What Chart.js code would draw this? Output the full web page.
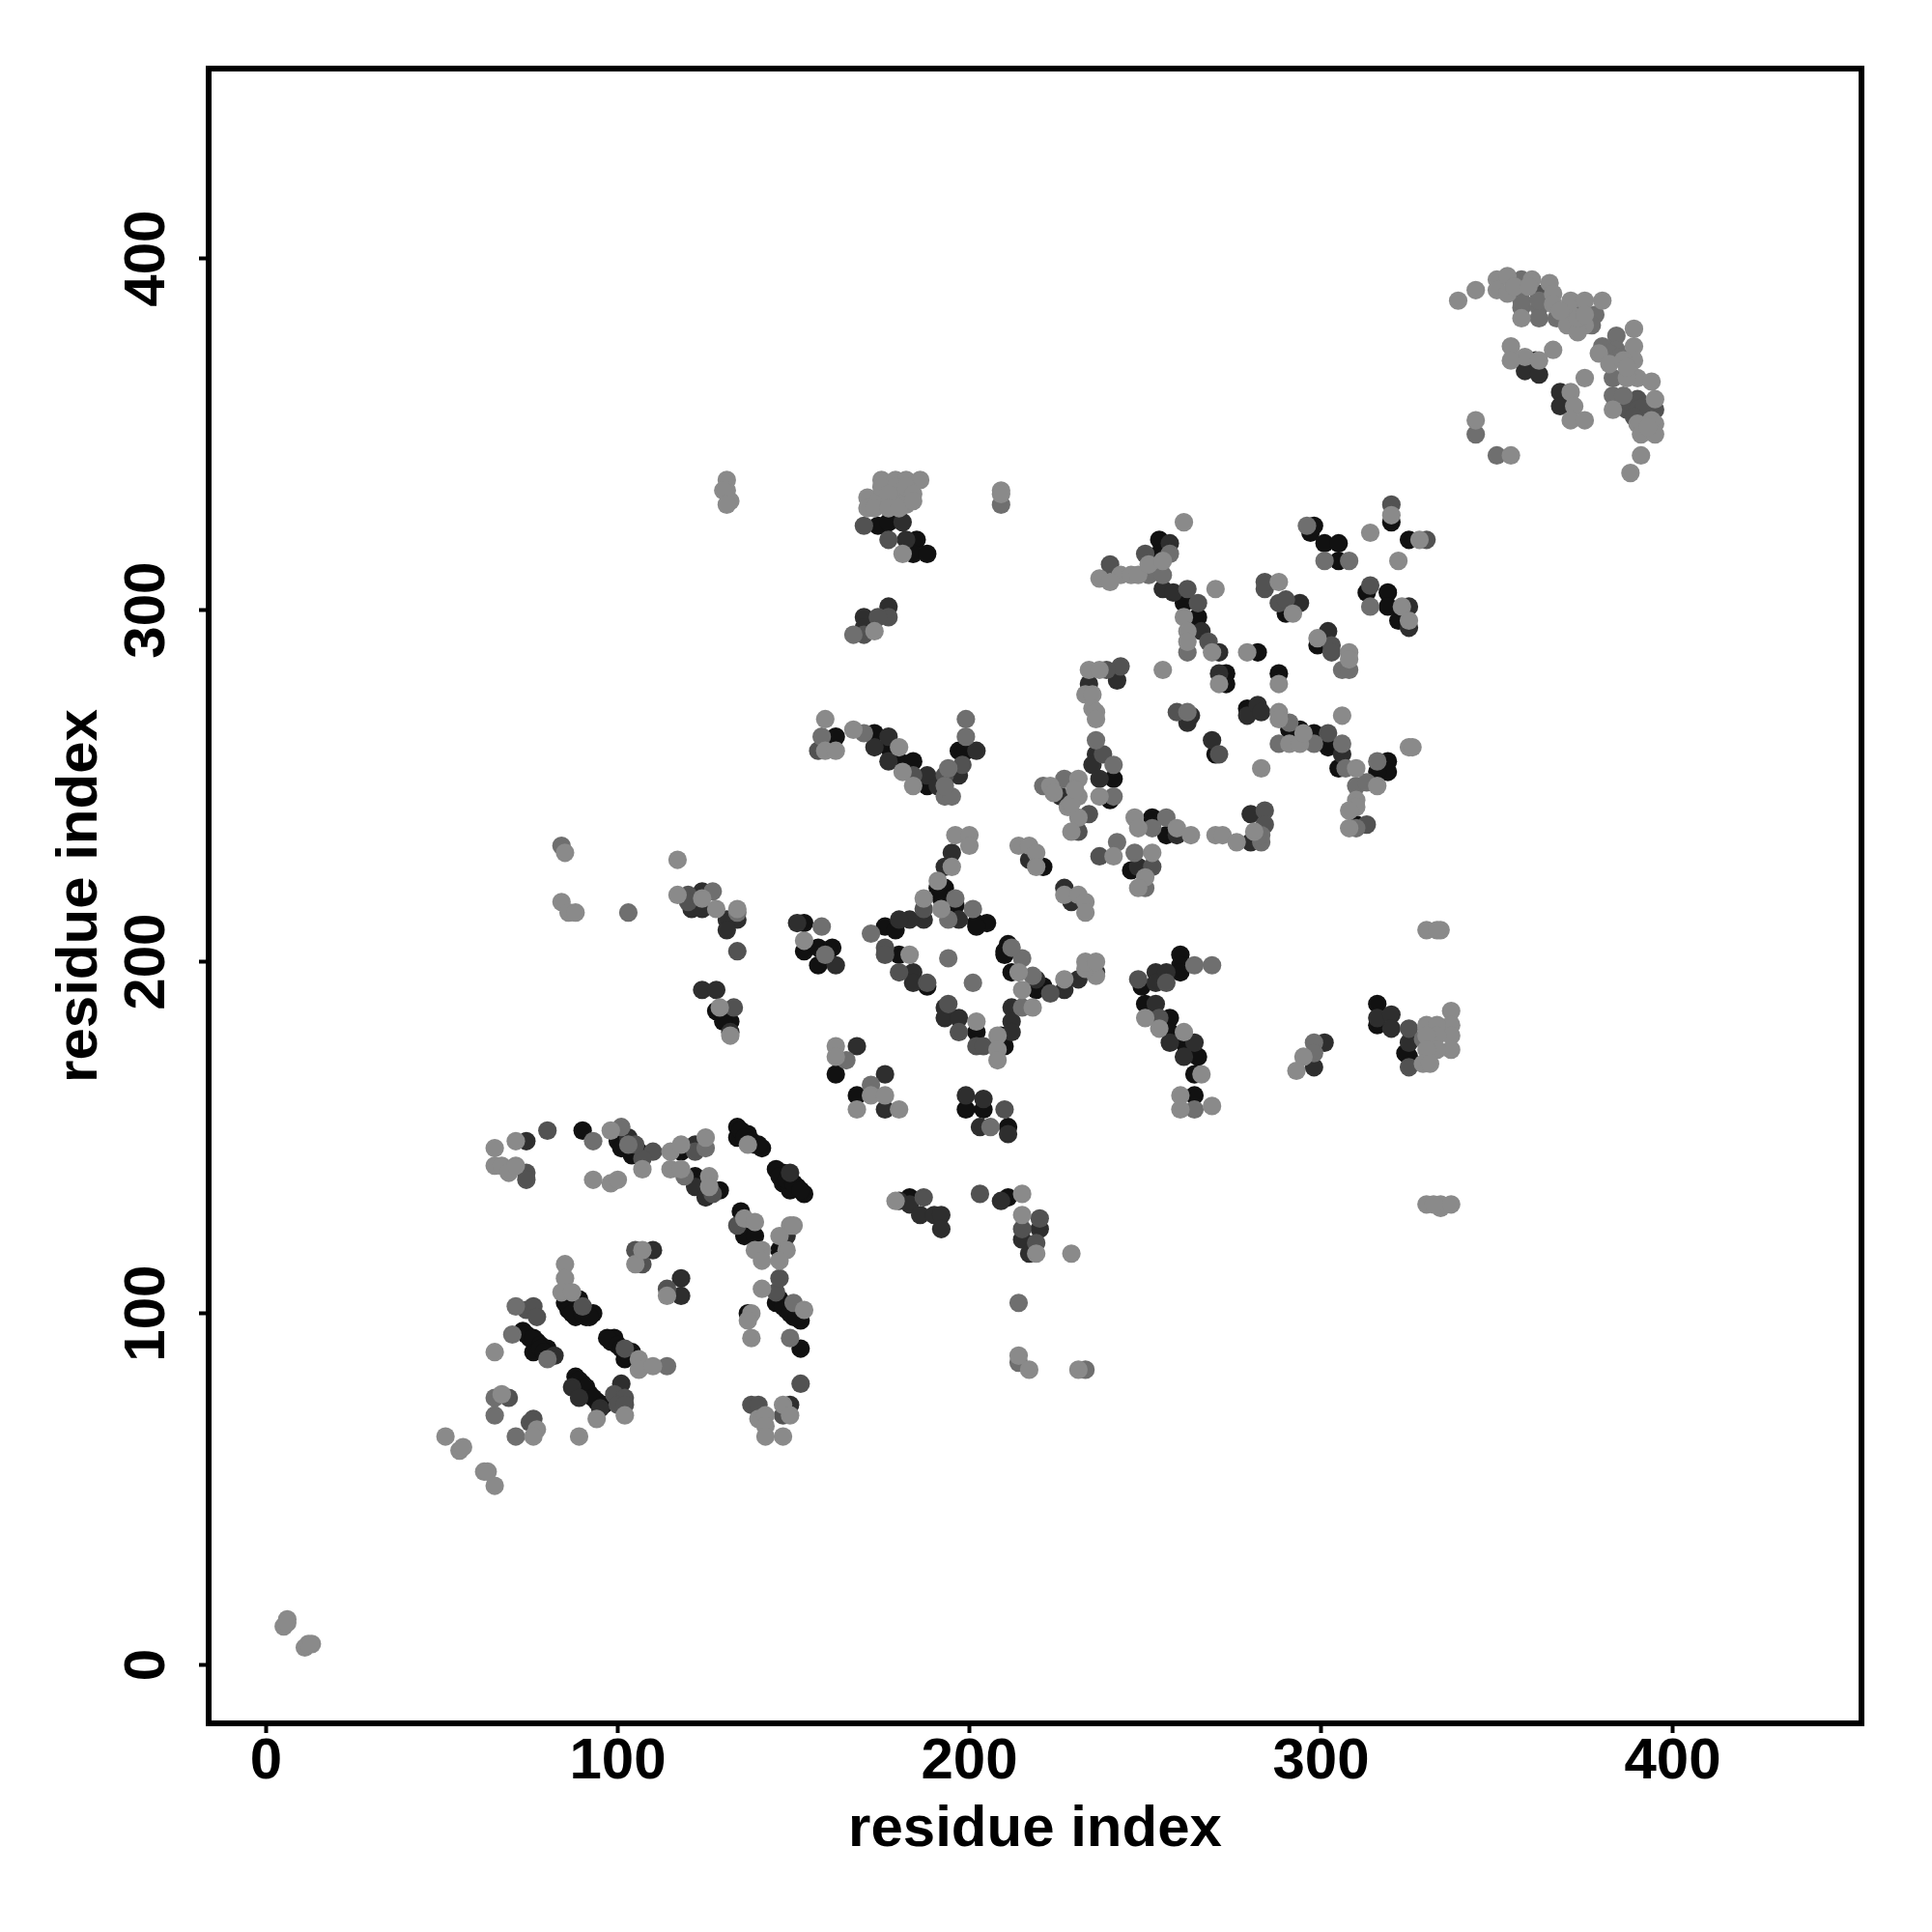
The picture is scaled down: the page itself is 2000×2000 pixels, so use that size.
<!DOCTYPE html>
<html>
<head>
<meta charset="utf-8">
<title>residue contacts</title>
<script src="https://cdn.jsdelivr.net/npm/chart.js@4"></script>
<style>
  html, body { margin: 0; padding: 0; background: #fff; }
  canvas { display: block; }
</style>
</head>
<body>
<canvas id="contactos" width="2000" height="2000"></canvas>
<script>
// pairs of residues [i, j], split by grey level
const tickValues = [0, 100, 200, 300, 400];
const axisLabel = 'residue index';

const negro = [[90,152],[100,149],[101,147],[106,146],[104,145],[118,146],[122,139],[129,135],[134,153],[137,151],[134,150],[139,148],[141,147],[147,140],[147,137],[151,136],[153,134],[149,135],[135,129],[136,122],[139,122],[146,118],[85,103],[89,104],[88,99],[93,100],[91,99],[145,103],[148,101],[150,99],[152,98],[137,100],[152,90],[73,95],[75,93],[77,92],[76,89],[80,90],[99,93],[98,92],[104,89],[102,87],[88,82],[90,80],[92,77],[94,75],
  [135,152],[136,150],[138,149],[140,148],[145,141],[146,139],[148,138],[150,137],[152,135],[74,94],[76,93],[78,91],[78,90],[79,89],[86,101],[87,100],[90,100],[92,99],[97,93],[100,91],[101,90],[103,88],[89,81],[91,79],[93,76],[96,74],[146,104],[147,102],[149,100],[151,99],
  [162,168],[168,162],[199,158],[204,158],[211,153],[183,133],[211,133],[202,180],[209,179],[210,176],[250,188],[257,184],[257,180],[261,177],[265,173],[264,168],[264,162],[188,193],[221,193],
  [128,186],[132,183],[130,183],[153,211],[153,203],[157,204],[161,204],[157,199],[162,264],[173,265],[177,261],[180,257],[184,257],[188,250],[197,260],[199,260],[193,221],[191,221],[192,218],[196,216],[202,211],[176,210],[179,209],[180,202],
  [205,211],[202,210],[211,205],[210,203],[210,202],[212,197],[219,192],[241,252],[240,246],[221,227],[246,226],[252,241],[256,236],[273,282],[273,279],[282,288],[288,282],[279,272],[291,266],[294,266],[298,265],[302,261],[305,255],[319,257],[319,254],[316,254],[310,239],[316,188],[316,182],[325,173],[260,202],[260,199],[260,197],[249,193],[270,259],[324,174],
  [239,309],[254,320],[254,316],[261,302],[265,298],[298,324],[297,322],[301,319],[305,319],[305,314],[320,325],[325,320],[313,305],[319,305],[319,301],[322,297],[290,299],[299,290],
  [174,324],[177,325],[185,320],[184,316],[188,316]];

const oscuro = [[74,149],[122,136],[125,133],[149,140],[82,88],[95,73],[87,79],[89,76],[101,80],[110,118],[118,110],[118,105],[148,122],[149,74],[122,148],[103,150],
  [168,176],[176,168],[176,158],[199,162],[204,161],[203,153],[211,151],[184,197],[184,194],[193,187],[193,184],[197,184],[212,187],[212,183],[212,180],[253,188],[257,177],[264,177],[261,173],[180,132],[183,131],[186,128],[190,128],[192,128],[192,124],[209,132],[220,124],[215,121],[217,117],
  [121,215],[124,220],[124,215],[134,212],[131,212],[131,209],[124,192],[128,192],[132,180],[151,211],[162,199],[173,261],[177,264],[177,257],[188,253],[191,250],[197,253],[202,260],[195,231],[193,227],[197,212],[187,212],[183,212],[180,212],
  [219,195],[227,192],[231,195],[236,197],[242,280],[234,279],[236,259],[235,256],[237,252],[226,247],[217,229],[227,221],[229,217],[248,227],[259,236],[280,234],[280,242],[271,282],[263,270],[262,268],[269,263],[279,270],[282,273],[283,271],[306,259],[316,184],[320,185],[320,181],[325,177],[301,177],[298,170],[253,197],[253,194],[256,197],
  [257,319],[255,306],[258,305],[266,294],[271,288],[294,302],[325,301],[325,295],[302,294],
  [358,368],[362,367],[368,362],[368,358],[361,371],
  [181,325],[182,320],[177,301],[170,298],[170,295]];

const medioOscuro = [[80,152],[110,146],[107,144],[74,140],[74,138],[105,118],[107,114],[114,107],[145,106],[134,125],[74,101],[76,102],[77,99],[102,90],[99,77],[102,76],[100,74],[102,74],[69,76],[76,70],[75,69],[138,74],[140,74],[147,71],[152,80],[146,110],[127,134],[90,102],[122,146],[105,148],
  [188,194],[194,188],[197,180],[210,158],[187,133],[203,134],[219,120],[180,197],[202,176],[204,176],[254,184],[220,127],[215,124],[223,191],
  [120,219],[120,217],[134,203],[133,187],[157,260],[184,253],[198,256],[193,253],[176,204],[176,202],[187,215],
  [243,284],[239,283],[238,259],[234,242],[231,237],[237,230],[252,227],[284,243],[284,239],[271,259],[259,271],[302,265],[313,239],[325,181],[325,170],[248,195],[256,194],
  [262,306],[265,302],[268,291],[303,290],[303,288],[320,330],[330,320],[288,302],[290,303],[284,306],[284,308],[240,313],[250,316],[314,307],
  [357,391],[362,390],[390,360],[387,357],[390,357],[395,357],[392,358],[389,355],
  [170,293],[177,298],[177,320],[170,324],[174,298]];

const medio = [[93,149],[65,76],[65,71],[71,65],[70,94],[114,85],[149,93],[71,102],[101,153],[125,147],[119,139],[103,148],[80,87],[150,103],
  [172,165],[165,172],[201,194],[215,187],[214,103],[233,84],[206,153],[269,199],[214,86],[264,158],
  [84,233],[103,214],[127,220],[134,214],[158,210],[158,264],[159,202],[170,265],[199,269],[199,264],[193,247],[194,255],[194,201],[196,218],[172,208],[194,212],[201,215],[195,247],[193,250],
  [215,201],[212,204],[218,196],[221,250],[227,252],[236,263],[241,247],[242,234],[247,231],[250,221],[256,241],[252,238],[288,262],[298,262],[306,262],[307,255],[310,250],[313,251],[316,257],[291,268],[310,238],[283,234],[283,236],[264,199],[298,177],[298,174],[262,271],[241,256],
  [251,310],[255,310],[296,324],[301,314],[308,314],[314,301],[262,288],[306,283],[308,283],[257,316],
  [357,394],[357,386],[362,386],[362,383],[367,383],[374,384],[378,384],[384,378],[380,375],[384,374],[383,366],[383,361],[386,361],[344,350],[350,344],[357,388],[362,388],[369,383],[372,386],[377,381],[382,373],[385,372],
  [167,293],[209,330],[329,178]];

const claro = [[51,65],[55,61],[56,62],[62,55],[63,55],[65,51],[65,147],[65,142],[67,142],[69,140],[71,142],[71,149],[93,138],[98,137],[100,138],[98,152],[107,141],[115,146],[115,141],[118,148],[125,150],[118,141],[126,139],[126,136],[136,127],[139,126],[141,118],[139,118],[141,115],[149,125],[150,125],[146,122],[148,118],[146,115],[105,114],[114,105],[141,107],[153,101],[85,114],[85,110],[84,106],[87,106],[138,100],[137,98],[138,93],[65,89],[106,87],[106,84],[110,85],[94,70],[102,71],[67,77],[77,67],[76,65],[89,65],[140,70],[142,71],[142,68],[142,65],[147,65],[147,74],[149,71],[107,118],[137,148],
  [5,11],[6,13],[6,12],[11,5],[12,6],[13,6],
  [162,176],[162,173],[168,158],[172,162],[176,162],[180,158],[202,183],[208,179],[208,175],[208,172],[218,187],[250,184],[254,181],[261,180],[266,168],[260,162],[260,158],[269,159],[179,132],[215,134],[215,128],[219,117],[229,117],[214,88],[217,84],[231,84],[215,192],[227,195],[236,196],[233,198],
  [85,231],[84,217],[86,214],[88,214],[117,229],[117,219],[124,218],[128,215],[134,215],[129,187],[132,179],[159,269],[159,260],[162,260],[153,206],[167,266],[180,261],[181,254],[184,250],[196,236],[200,236],[200,233],[195,227],[191,223],[192,215],[187,218],[183,202],
  [233,200],[236,200],[214,197],[234,283],[237,283],[233,276],[235,276],[235,272],[236,271],[236,269],[237,247],[223,250],[231,252],[231,247],[228,244],[231,241],[229,237],[229,245],[230,249],[224,248],[214,233],[217,233],[219,231],[219,227],[227,219],[231,219],[233,217],[233,214],[241,230],[252,231],[250,224],[248,221],[247,241],[248,238],[259,238],[263,236],[270,236],[272,236],[276,234],[281,237],[255,283],[271,279],[279,288],[288,279],[288,271],[288,269],[291,262],[294,262],[295,265],[306,270],[310,255],[316,250],[325,261],[326,261],[310,246],[310,244],[308,243],[308,238],[283,255],[295,173],[293,169],[330,181],
  [261,325],[237,309],[243,310],[246,310],[248,310],[240,308],[251,313],[255,314],[261,298],[262,294],[262,291],[269,288],[270,306],[314,322],[320,327],[328,320],[322,314],[288,308],[292,299],[323,301],[325,297],[299,292],[308,288],[308,286],
  [339,388],[344,391],[350,394],[350,391],[353,395],[353,390],[357,383],[360,394],[365,393],[366,390],[366,387],[371,388],[375,388],[380,388],[371,384],[370,381],[375,381],[373,379],[389,380],[389,375],[379,373],[382,370],[389,371],[386,371],[354,375],[366,374],[358,372],[354,371],[362,371],[375,366],[390,366],[387,366],[394,365],[371,362],[372,358],[371,354],[375,354],[395,360],[383,357],[390,353],[395,353],[391,350],[395,350],[391,344],[388,339],[344,354],[354,344],[355,392],[359,392],[368,385],[373,383],[375,384],[387,369],[394,354],[393,352],
  [131,337],[131,334],[130,334],[132,331],[131,330],[209,334],[209,333],[175,337],[179,337],[182,337],[186,337],[175,333],[179,333],[182,333],[171,332],[171,329],[174,331],[178,331],[182,330],[181,316],[173,294],[175,335],[179,335],[182,335],[177,333],[173,329],[177,329],[180,329],[184,333],[184,331],
  [330,209],[334,209],[333,209],[337,186],[337,182],[337,179],[337,175],[330,182],[333,182],[333,179],[330,179],[333,175],[330,175],[329,171],[331,171],[330,131],[334,131],[334,130],[337,131],[332,131]];

const fuente = { family: '"Liberation Sans", Arial, sans-serif', size: 60, weight: 'bold', lineHeight: 1 };

const aPuntos = (pares) => pares.map(([x, y]) => ({ x, y }));
const serie = (pares, color) => ({ data: aPuntos(pares), backgroundColor: color, borderWidth: 0, pointRadius: 9.6, pointHoverRadius: 9.6 });

// the frame around the plot
const marco = {
  id: 'marco',
  afterDatasetsDraw(chart) {
    const { ctx, chartArea: a } = chart;
    ctx.save();
    ctx.strokeStyle = '#000';
    ctx.lineWidth = 6;
    ctx.lineJoin = 'miter';
    ctx.strokeRect(a.left, a.top, a.right - a.left, a.bottom - a.top);
    ctx.restore();
  }
};

const fijarTicks = (escala) => { escala.ticks = tickValues.map((value) => ({ value })); };

new Chart(document.getElementById('contactos'), {
  type: 'scatter',
  // the first dataset ends up on top
  data: {
    datasets: [
      serie(claro, '#8a8a8a'),
      serie(medio, '#6f6f6f'),
      serie(medioOscuro, '#525252'),
      serie(oscuro, '#2e2e2e'),
      serie(negro, '#111111')
    ]
  },
  plugins: [marco],
  options: {
    responsive: false,
    animation: false,
    layout: { autoPadding: false, padding: { top: 71, right: 73, left: 0, bottom: 0 } },
    plugins: { legend: { display: false }, tooltip: { enabled: false } },
    scales: {
      x: {
        type: 'linear',
        min: -16.35,
        max: 453.7,
        afterBuildTicks: fijarTicks,
        afterFit: (s) => { s.height = 216; },
        grid: { drawOnChartArea: false, drawTicks: true, tickLength: 10, tickWidth: 4, tickColor: '#000' },
        border: { display: false },
        ticks: { color: '#000', font: fuente, padding: 0, maxRotation: 0, autoSkip: false },
        title: { display: true, text: axisLabel, color: '#000', font: fuente, padding: { top: 0, bottom: 76 } }
      },
      y: {
        type: 'linear',
        min: -16.57,
        max: 454,
        afterBuildTicks: fijarTicks,
        afterFit: (s) => { s.width = 216; },
        grid: { drawOnChartArea: false, drawTicks: true, tickLength: 10, tickWidth: 4, tickColor: '#000' },
        border: { display: false },
        ticks: { color: '#000', font: fuente, padding: 2, minRotation: 90, maxRotation: 90, crossAlign: 'center', autoSkip: false },
        title: { display: true, text: axisLabel, color: '#000', font: fuente, padding: { top: 53, bottom: 0 } }
      }
    }
  }
});
</script>
</body>
</html>
